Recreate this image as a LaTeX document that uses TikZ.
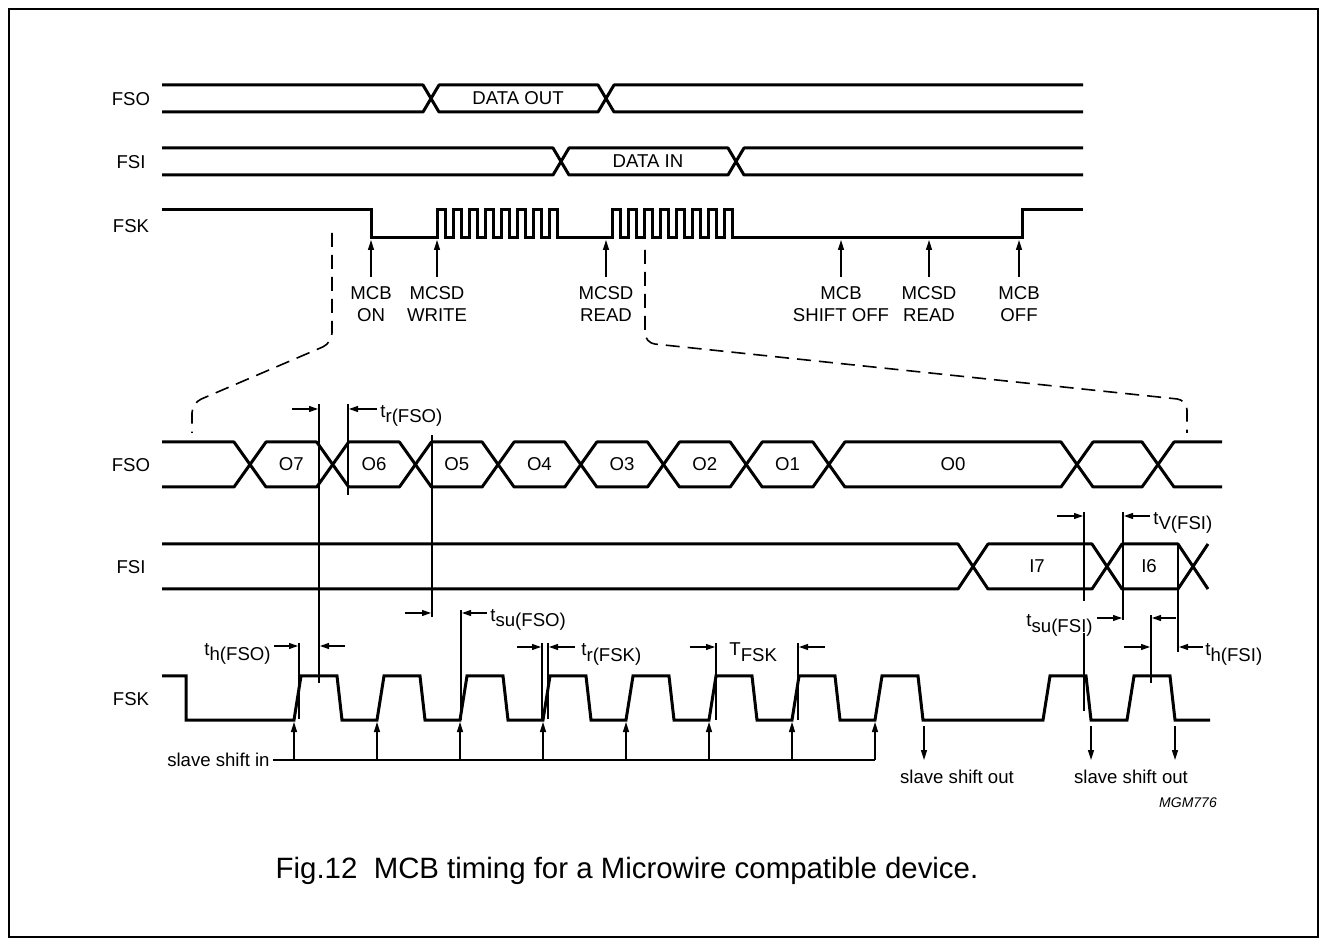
\documentclass[tikz,border=0pt]{standalone}
\usepackage{fontspec}
\setmainfont{Liberation Sans}
\usetikzlibrary{arrows.meta}

\newcommand\tsub[2]{#1\raisebox{-2.5pt}{#2}}

\begin{document}
\begin{tikzpicture}[x=0.5pt,y=-0.5pt,
  sig/.style={line width=1.5pt, line join=round},
  tmark/.style={line width=0.55pt},
  dimarrow/.style={line width=0.55pt,-{Triangle[length=4.5pt,width=3pt]}},
  ptr/.style={line width=0.7pt,-{Triangle[length=5pt,width=3pt]}},
  lbl/.style={inner sep=0pt,font=\fontsize{9.3}{11}\selectfont},
  zoomline/.style={line width=0.8pt,dash pattern=on 7pt off 4pt,rounded corners=5pt}]

\useasboundingbox (0,0) rectangle (1327,945);
\draw[line width=0.6pt] (9,9) rectangle (1318,937);

%% overview
\node[lbl] (fso1) at (131,99) {FSO};
\node[lbl] (fsi1) at (131,162) {FSI};
\node[lbl] (fsk1) at (131,226) {FSK};

\draw[sig] (162,85) -- (423,85) -- (431,98.5) -- (423,112) -- (162,112);
\draw[sig] (431,98.5) -- (439,85) -- (598,85) -- (606,98.5) -- (598,112) -- (439,112) -- cycle;
\draw[sig] (1083,85) -- (614,85) -- (606,98.5) -- (614,112) -- (1083,112);
\node[lbl] (dout) at (518,98.5) {DATA OUT};

\draw[sig] (162,148) -- (553,148) -- (561,161.5) -- (553,175) -- (162,175);
\draw[sig] (561,161.5) -- (569,148) -- (728,148) -- (736,161.5) -- (728,175) -- (569,175) -- cycle;
\draw[sig] (1083,148) -- (744,148) -- (736,161.5) -- (744,175) -- (1083,175);
\node[lbl] (din) at (648,161.5) {DATA IN};

\draw[sig,line join=miter] (162,210) -- (371,210) -- (371,238)
  \foreach \k in {0,...,7}{ -- (437+16*\k,238) -- (437+16*\k,210) -- (445+16*\k,210) -- (445+16*\k,238) }
  \foreach \k in {0,...,7}{ -- (612+16*\k,238) -- (612+16*\k,210) -- (620+16*\k,210) -- (620+16*\k,238) }
  -- (1022,238) -- (1022,210) -- (1083,210);

\coordinate (klow) at (0,240);
\foreach \x/\name/\txt in {371/on/{MCB\\ON}, 437/wr/{MCSD\\WRITE}, 606/rd/{MCSD\\READ},
    841/sh/{MCB\\SHIFT OFF}, 929/rdb/{MCSD\\READ}, 1019/off/{MCB\\OFF}}{%
  \node[lbl,align=center] (ev\name) at (\x,304) {\txt};
  \draw[ptr] ([yshift=4.75pt]ev\name.north) -- (ev\name.north |- klow);
}

% zoom lines
\draw[zoomline] (332,233) -- (332,343) -- (192,403) -- (192,433);
\draw[zoomline] (645,250) -- (645,343) -- (1187,400) -- (1187,433);

%% detail
\node[lbl] (fso2) at (131,465) {FSO};
\node[lbl] (fsi2) at (131,567) {FSI};
\node[lbl] (fsk2) at (131,699) {FSK};

\draw[sig] (162,442) -- (234,442) -- (250,464.5) -- (234,487) -- (162,487);
\foreach \a/\b in {250/332.7, 332.7/415.4, 415.4/498.1, 498.1/580.8, 580.8/663.5,
    663.5/746.2, 746.2/828.9, 828.9/1077, 1077/1158}
  \draw[sig] (\a,464.5) -- (\a+16,442) -- (\b-16,442) -- (\b,464.5) -- (\b-16,487) -- (\a+16,487) -- cycle;
\draw[sig] (1222,442) -- (1174,442) -- (1158,464.5) -- (1174,487) -- (1222,487);
\foreach \x/\t in {291.4/O7, 374/O6, 456.7/O5, 539.4/O4, 622.1/O3, 704.8/O2, 787.5/O1, 953/O0}
  \node[lbl] (d\t) at (\x,464.5) {\t};

\draw[sig] (162,544) -- (958,544) -- (973,566.5) -- (958,589) -- (162,589);
\draw[sig] (973,566.5) -- (988,544) -- (1092,544) -- (1107,566.5) -- (1092,589) -- (988,589) -- cycle;
\draw[sig] (1107,566.5) -- (1122,544) -- (1178,544) -- (1193,566.5) -- (1178,589) -- (1122,589) -- cycle;
\draw[sig] (1193,566.5) -- (1208,544) (1193,566.5) -- (1208,589);
\node[lbl] (dI7) at (1037,566.5) {I7};
\node[lbl] (dI6) at (1149,566.5) {I6};

\draw[sig,line join=miter] (162,676) -- (186,676) -- (186,720)
  \foreach \r in {294,377,460,543,626,709,792,875,1043,1127}{ -- (\r,720) -- (\r+7,676) -- (\r+43,676) -- (\r+48,720) }
  -- (1210,720);

% shift in / out
\node[lbl,anchor=east] (shin) at (270,760) {slave shift in};
\draw[line width=0.8pt] ([xshift=1.5pt]shin.east) -- (875,760);
\foreach \r in {294,377,460,543,626,709,792,875}
  \draw[ptr] (\r,760) -- (\r,722);
\foreach \x in {924,1091,1175}
  \draw[ptr] (\x,726) -- (\x,760);
\node[lbl] (shouta) at (957,777) {slave shift out};
\node[lbl] (shoutb) at (1131,777) {slave shift out};

% timing marks
\foreach \x/\ya/\yb in {319/404/683, 348/404/495, 432/435/617, 461/610/720, 299/643/719,
    542/643/720, 548/643/719, 716/643/720, 798/643/720, 1084/512/601, 1084/633/711,
    1123/512/620, 1151/615/683, 1178/544/652}
  \draw[tmark] (\x,\ya) -- (\x,\yb);
\foreach \xa/\xb/\y in {292/318/409, 377/349/409, 405/431/613, 487/462/613, 274/298/646,
    345/320/646, 517/541/647, 575/549/647, 690/715/647, 825/799/647, 1057/1083/516,
    1150/1124/516, 1097/1122/618, 1176/1152/618, 1124/1150/647, 1203/1179/647}
  \draw[dimarrow] (\xa,\y) -- (\xb,\y);

\node[lbl,anchor=base west] (trfso) at (380,418) {\tsub{t}{r(FSO)}};
\node[lbl,anchor=base west] (tsufso) at (490,622) {\tsub{t}{su(FSO)}};
\node[lbl,anchor=base east] (thfso) at (271,655) {\tsub{t}{h(FSO)}};
\node[lbl,anchor=base west] (trfsk) at (581,656) {\tsub{t}{r(FSK)}};
\node[lbl,anchor=base west] (tfsk) at (729,656) {\tsub{T}{FSK}};
\node[lbl,anchor=base west] (tvfsi) at (1153,525) {\tsub{t}{V(FSI)}};
\node[lbl,anchor=base east] (tsufsi) at (1093,627) {\tsub{t}{su(FSI)}};
\node[lbl,anchor=base west] (thfsi) at (1205,656) {\tsub{t}{h(FSI)}};

\node[inner sep=0pt,font=\fontsize{7}{8}\selectfont\itshape] (mgm) at (1188,803) {MGM776};

\node[inner sep=0pt,font=\fontsize{14.7}{16}\selectfont] (caption) at (627,871)
  {Fig.12\hspace{0.556em}MCB timing for a Microwire compatible device.};

\end{tikzpicture}
\end{document}
